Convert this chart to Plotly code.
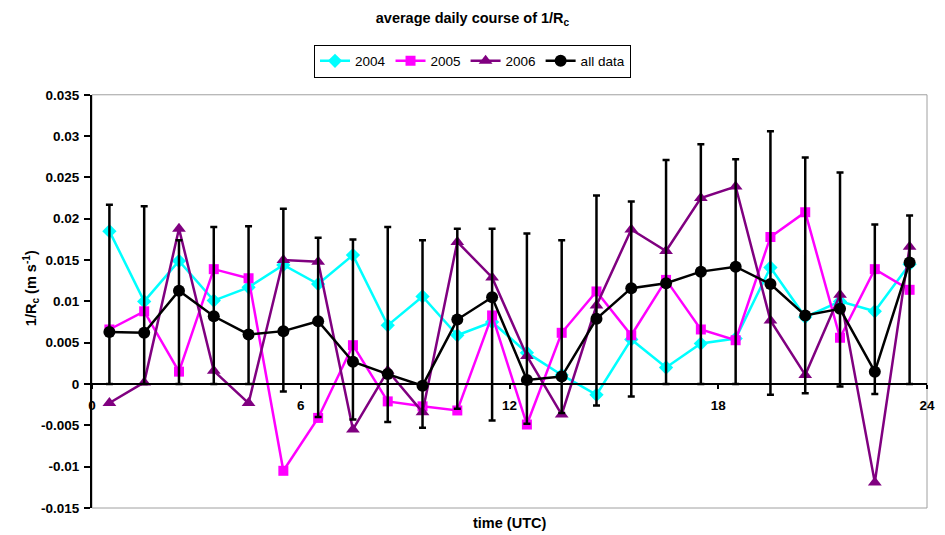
import plotly.graph_objects as go

# Hour of day (UTC), centred in each hourly bin
hours = [0.5, 1.5, 2.5, 3.5, 4.5, 5.5, 6.5, 7.5, 8.5, 9.5, 10.5, 11.5,
         12.5, 13.5, 14.5, 15.5, 16.5, 17.5, 18.5, 19.5, 20.5, 21.5, 22.5, 23.5]

# Mean canopy conductance 1/Rc (m s-1) per year
y2004 = [0.0185, 0.0100, 0.0149, 0.0101, 0.0117, 0.0144, 0.0121, 0.0156, 0.0071, 0.0106, 0.0059, 0.0075,
         0.0038, 0.0011, -0.0013, 0.0054, 0.0020, 0.0049, 0.0055, 0.0141, 0.0081, 0.0100, 0.0088, 0.0145]
y2005 = [0.0066, 0.0088, 0.0015, 0.0139, 0.0128, -0.0105, -0.0041, 0.0047, -0.0021, -0.0027, -0.0032, 0.0083,
         -0.0049, 0.0062, 0.0112, 0.0059, 0.0126, 0.0066, 0.0053, 0.0178, 0.0208, 0.0056, 0.0139, 0.0114]
y2006 = [-0.0023, 0.0002, 0.0188, 0.0016, -0.0023, 0.0150, 0.0148, -0.0055, 0.0016, -0.0034, 0.0172, 0.0129,
         0.0034, -0.0037, 0.0095, 0.0187, 0.0161, 0.0225, 0.0239, 0.0077, 0.0011, 0.0108, -0.0119, 0.0166]
y_all = [0.0063, 0.0062, 0.0113, 0.0082, 0.0060, 0.0064, 0.0076, 0.0027, 0.0012, -0.0002, 0.0078, 0.0105,
         0.0005, 0.0009, 0.0079, 0.0116, 0.0122, 0.0136, 0.0142, 0.0121, 0.0083, 0.0091, 0.0015, 0.0147]

# Upper and lower ends of the spread bars for all data
upper_all = [0.0217, 0.0215, 0.0174, 0.0190, 0.0191, 0.0212, 0.0177, 0.0175, 0.0190, 0.0174, 0.0188, 0.0188,
             0.0182, 0.0174, 0.0228, 0.0221, 0.0271, 0.0290, 0.0272, 0.0306, 0.0274, 0.0256, 0.0193, 0.0204]
lower_all = [0.0, 0.0, 0.0, 0.0, 0.0, -0.0009, -0.0040, -0.0043, -0.0046, -0.0053, -0.0030, -0.0044,
             -0.0048, -0.0035, -0.0026, -0.0015, 0.0, 0.0, 0.0, -0.0013, -0.0011, -0.0003, -0.0012, 0.0]

y_tickvals = [0.035, 0.03, 0.025, 0.02, 0.015, 0.01, 0.005, 0, -0.005, -0.01, -0.015]
y_ticktext = ["0.035", "0.03", "0.025", "0.02", "0.015", "0.01", "0.005", "0", "-0.005", "-0.01", "-0.015"]
x_tickvals = [0, 6, 12, 18, 24]
x_ticktext = ["0", "6", "12", "18", "24"]

FONT = "Arial, Liberation Sans, sans-serif"

err_plus = [u - m for u, m in zip(upper_all, y_all)]
err_minus = [m - l for m, l in zip(y_all, lower_all)]

fig = go.Figure()
fig.add_trace(go.Scatter(x=hours, y=y2004, name="2004", mode="lines+markers",
                         line=dict(color="#00FFFF", width=2.5),
                         marker=dict(symbol="diamond", size=11, color="#00FFFF")))
fig.add_trace(go.Scatter(x=hours, y=y2005, name="2005", mode="lines+markers",
                         line=dict(color="#FF00FF", width=2.5),
                         marker=dict(symbol="square", size=10, color="#FF00FF")))
fig.add_trace(go.Scatter(x=hours, y=y2006, name="2006", mode="lines+markers",
                         line=dict(color="#800080", width=2.5),
                         marker=dict(symbol="triangle-up", size=12, color="#800080")))
fig.add_trace(go.Scatter(x=hours, y=y_all, name="all data", mode="lines+markers",
                         line=dict(color="black", width=2.5),
                         marker=dict(symbol="circle", size=12, color="black"),
                         error_y=dict(type="data", symmetric=False, array=err_plus, arrayminus=err_minus,
                                      color="black", thickness=2.5, width=3.5)))

fig.update_layout(
    width=945, height=535,
    margin=dict(l=92, r=10, t=88, b=27),
    paper_bgcolor="white", plot_bgcolor="white",
    font=dict(family=FONT, size=13, color="black"),
    title=dict(text="average daily course of 1/R<sub>c</sub>", x=0.5, xref="container",
               y=1 - 18 / 535, yref="container", xanchor="center", yanchor="middle",
               font=dict(family=FONT, size=14.5, weight="bold")),
    legend=dict(orientation="h", x=0.5, xref="container", xanchor="center",
                y=1 - 61 / 535, yref="container", yanchor="middle",
                bordercolor="black", borderwidth=1, bgcolor="white",
                font=dict(family=FONT, size=13.5), itemwidth=30, tracegroupgap=0),
    showlegend=True,
    xaxis=dict(range=[0, 24], tickvals=x_tickvals, ticktext=x_ticktext,
               anchor="free", position=0.3, showline=True, linecolor="black", linewidth=2,
               ticks="outside", ticklen=4, tickwidth=1.5, tickcolor="black",
               ticklabelstandoff=5, showgrid=False, zeroline=False,
               tickfont=dict(family=FONT, size=13.5, weight="bold")),
    yaxis=dict(range=[-0.015, 0.035], tickvals=y_tickvals, ticktext=y_ticktext,
               showline=True, linecolor="black", linewidth=2,
               ticks="outside", ticklen=6, tickwidth=1.5, tickcolor="black",
               ticklabelstandoff=2, showgrid=False, zeroline=False,
               tickfont=dict(family=FONT, size=13.5, weight="bold")),
    shapes=[dict(type="rect", xref="paper", yref="paper", x0=0, x1=1, y0=0, y1=1,
                 line=dict(color="#A0A0A0", width=1), layer="below")],
    annotations=[
        dict(text="time (UTC)", xref="paper", yref="paper", x=0.5, y=-15 / 420,
             xanchor="center", yanchor="middle", showarrow=False,
             font=dict(family=FONT, size=14.5, weight="bold")),
        dict(text="1/R<sub>c</sub> (m s<sup>-1</sup>)", xref="paper", yref="paper",
             x=(30 - 92) / 843, y=(508 - 285) / 420, textangle=-90,
             xanchor="center", yanchor="middle", showarrow=False,
             font=dict(family=FONT, size=14.5, weight="bold")),
    ],
)

fig.write_html("out.html")
